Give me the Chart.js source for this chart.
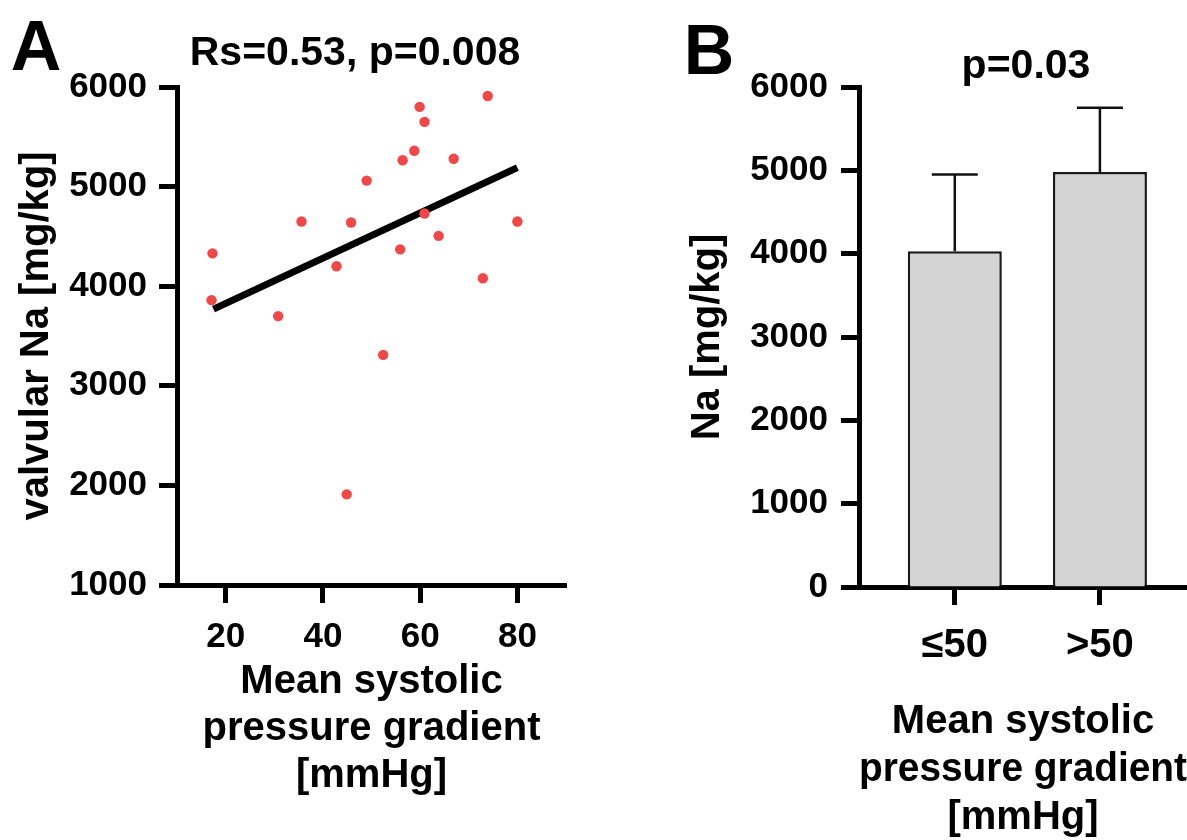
<!DOCTYPE html>
<html>
<head>
<meta charset="utf-8">
<script src="https://cdn.jsdelivr.net/npm/chart.js@4"></script>
<style>
  html, body { margin: 0; padding: 0; background: #fff; }
  #wrap { position: relative; width: 1187px; height: 840px; overflow: hidden;
          font-family: "Liberation Sans", Arial, sans-serif; font-weight: bold; color: #000; }
  canvas { position: absolute; top: 0; }
  #chartA { left: 0; }
  #chartB { left: 600px; }
  .lbl { position: absolute; line-height: 1; white-space: nowrap; transform: translate(-50%, -50%); }
</style>
</head>
<body>
<div id="wrap">
  <canvas id="chartA" width="600" height="840"></canvas>
  <canvas id="chartB" width="587" height="840"></canvas>
  <div class="lbl" style="left:36px;top:46px;font-size:70px">A</div>
  <div class="lbl" style="left:355px;top:51px;font-size:41px">Rs=0.53, p=0.008</div>
  <div class="lbl" style="left:709px;top:50px;font-size:70px">B</div>
  <div class="lbl" style="left:1026px;top:64px;font-size:41px">p=0.03</div>
</div>
<script>
(function () {
  "use strict";

  // ── Data ──
  var gradient = [17.3, 17.1, 30.8, 35.6, 42.8, 45.8, 44.9, 49.0, 52.4, 55.9, 56.4, 58.8, 59.9, 60.9, 60.9, 63.8, 66.9, 72.9, 73.9, 80.0];
  var sodium = [4330, 3860, 3700, 4650, 4200, 4640, 1910, 5060, 3310, 4370, 5265, 5360, 5800, 5650, 4730, 4505, 5280, 4080, 5910, 4650];
  var fitX = [17.5, 80];
  var fitY = [3770, 5190];
  var xTicksA = [20, 40, 60, 80];

  var groups = ["≤50", ">50"];
  var groupMean = [4030, 4980];
  var groupErrTop = [4950, 5750];

  var FONT = "'Liberation Sans', Arial, sans-serif";
  var tickFont = { family: FONT, size: 35, weight: "bold" };
  var groupFont = { family: FONT, size: 40, weight: "bold" };
  var titleFontA = { family: FONT, size: 40, weight: "bold", lineHeight: 1.18 };
  var titleFontB = { family: FONT, size: 40, weight: "bold", lineHeight: 1.2 };
  var numLabel = function (v) { return String(v); };

  function axisGrid() {
    return { display: true, drawOnChartArea: false, drawTicks: true, tickLength: 18, tickWidth: 5, tickColor: "#000" };
  }
  var axisBorder = { display: true, width: 5, color: "#000" };

  // ── A: scatter + fit line ──
  var pts = gradient.map(function (x, i) { return { x: x, y: sodium[i] }; });
  var fit = fitX.map(function (x, i) { return { x: x, y: fitY[i] }; });

  new Chart(document.getElementById("chartA"), {
    type: "scatter",
    data: {
      datasets: [
        { data: pts, backgroundColor: "#f24747", borderWidth: 0, pointRadius: 5.2 },
        { type: "line", data: fit, borderColor: "#000", borderWidth: 7, pointRadius: 0, showLine: true, fill: false, borderCapStyle: "butt" }
      ]
    },
    options: {
      responsive: false, animation: false,
      layout: { padding: { top: 87, right: 34, left: 0, bottom: 0 } },
      plugins: { legend: { display: false }, tooltip: { enabled: false } },
      scales: {
        x: {
          type: "linear", min: 10, max: 90,
          afterBuildTicks: function (s) { s.ticks = xTicksA.map(function (v) { return { value: v }; }); },
          afterFit: function (s) { s.height = 255; },
          grid: axisGrid(), border: axisBorder,
          ticks: { color: "#000", font: tickFont, padding: 13, maxRotation: 0, callback: numLabel },
          title: { display: true, text: ["Mean systolic", "pressure gradient", "[mmHg]"], color: "#000", font: titleFontA, padding: { top: 0, bottom: 40 } }
        },
        y: {
          min: 1000, max: 6000,
          afterFit: function (s) { s.width = 177; },
          grid: axisGrid(), border: axisBorder,
          ticks: { stepSize: 1000, color: "#000", font: tickFont, padding: 12, callback: numLabel },
          title: { display: true, text: "valvular Na [mg/kg]", color: "#000", font: titleFontA, padding: { top: 13, bottom: 0 } }
        }
      }
    }
  });

  // ── B: bars with upper error bars ──
  var errorBars = {
    id: "errorBars",
    afterDatasetsDraw: function (chart) {
      var ctx = chart.ctx, ys = chart.scales.y;
      var meta = chart.getDatasetMeta(0);
      ctx.save();
      ctx.strokeStyle = "#111";
      ctx.lineWidth = 2.5;
      meta.data.forEach(function (bar, i) {
        var yTop = ys.getPixelForValue(groupErrTop[i]);
        ctx.beginPath();
        ctx.moveTo(bar.x, bar.y);
        ctx.lineTo(bar.x, yTop);
        ctx.moveTo(bar.x - 23, yTop);
        ctx.lineTo(bar.x + 23, yTop);
        ctx.stroke();
      });
      ctx.restore();
    }
  };

  new Chart(document.getElementById("chartB"), {
    type: "bar",
    data: {
      datasets: [{
        data: groupMean.map(function (v, i) { return { x: i + 1, y: v }; }),
        backgroundColor: "#d4d4d4", borderColor: "#1a1a1a", borderWidth: 2.5,
        barPercentage: 0.648, categoryPercentage: 1
      }]
    },
    options: {
      responsive: false, animation: false,
      layout: { padding: { top: 87, right: 0, left: 0, bottom: 0 } },
      plugins: { legend: { display: false }, tooltip: { enabled: false } },
      scales: {
        x: {
          type: "linear", min: 0.34, max: 2.6, offset: false,
          afterBuildTicks: function (s) { s.ticks = groups.map(function (g, i) { return { value: i + 1 }; }); },
          afterFit: function (s) { s.height = 253; },
          grid: Object.assign(axisGrid(), { offset: false }), border: axisBorder,
          ticks: { color: "#000", font: groupFont, padding: 17, maxRotation: 0,
                   callback: function (v) { return groups[v - 1]; } },
          title: { display: true, text: ["Mean systolic", "pressure gradient", "[mmHg]"], color: "#000", font: titleFontB, padding: { top: 0, bottom: -2 } }
        },
        y: {
          min: 0, max: 6000,
          afterFit: function (s) { s.width = 259; },
          grid: axisGrid(), border: axisBorder,
          ticks: { stepSize: 1000, color: "#000", font: tickFont, padding: 13, callback: numLabel },
          title: { display: true, text: "Na [mg/kg]", color: "#000", font: titleFontB, padding: { top: 84, bottom: 0 } }
        }
      }
    },
    plugins: [errorBars]
  });
})();
</script>
</body>
</html>
